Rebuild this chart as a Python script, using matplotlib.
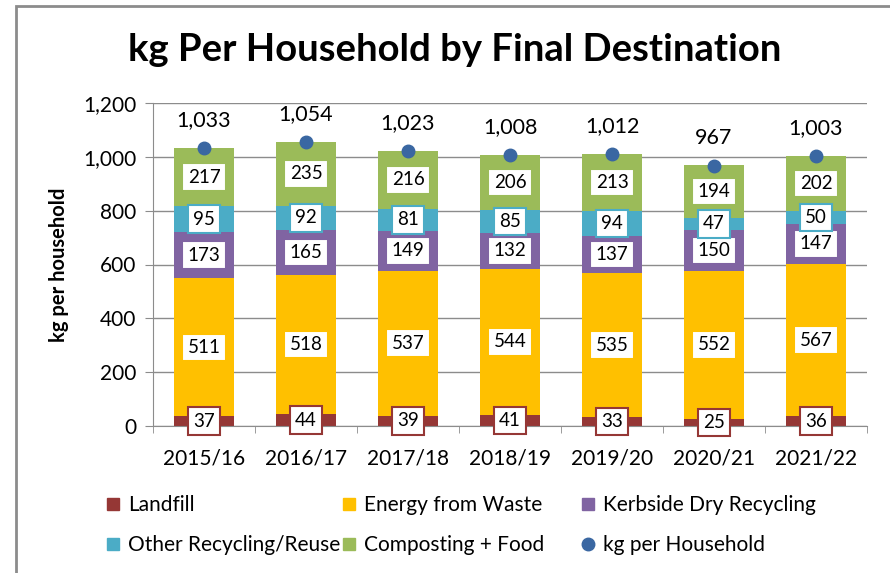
import numpy as np
import matplotlib.pyplot as plt
from matplotlib.patches import Rectangle
from matplotlib.lines import Line2D

plt.rcParams['font.family'] = ['Lato', 'DejaVu Sans']

# data
years = ['2015/16', '2016/17', '2017/18', '2018/19', '2019/20', '2020/21', '2021/22']
landfill = [37, 44, 39, 41, 33, 25, 36]
energy = [511, 518, 537, 544, 535, 552, 567]
kerbside = [173, 165, 149, 132, 137, 150, 147]
other = [95, 92, 81, 85, 94, 47, 50]
composting = [217, 235, 216, 206, 213, 194, 202]
per_household = [1033, 1054, 1023, 1008, 1012, 967, 1003]

series = [
    ('Landfill', landfill, '#953735'),
    ('Energy from Waste', energy, '#FFC000'),
    ('Kerbside Dry Recycling', kerbside, '#8064A2'),
    ('Other Recycling/Reuse', other, '#4BACC6'),
    ('Composting + Food', composting, '#9BBB59'),
]
dot_color = '#3A67A2'
grid_color = '#8C8C8C'

fig = plt.figure(figsize=(8.9, 5.73), dpi=100)
ax = fig.add_axes([153/890, 1 - 426/573, 714/890, 323/573])

x = np.arange(len(years))
bottom = np.zeros(len(years))
for name, vals, col in series:
    vals = np.array(vals, dtype=float)
    ax.bar(x, vals, 0.58, bottom=bottom, color=col, zorder=2)
    for xi, v, bt in zip(x, vals, bottom):
        ax.text(xi, bt + v / 2, f'{int(v)}', ha='center', va='center', fontsize=13.5,
                color='black', zorder=4,
                bbox=dict(boxstyle='square,pad=0.28', fc='white', ec=col, lw=1.5))
    bottom += vals

ax.plot(x, per_household, 'o', color=dot_color, markersize=9, zorder=3, clip_on=False)
for xi, v in zip(x, per_household):
    ax.annotate(f'{v:,}', (xi, v), xytext=(0, 20), textcoords='offset points',
                ha='center', va='center', fontsize=15.5)

ax.set_xlim(-0.5, len(years) - 0.5)
ax.set_ylim(0, 1200)
ax.set_yticks(range(0, 1201, 200))
ax.set_yticklabels([f'{v:,}' for v in range(0, 1201, 200)], fontsize=15)
ax.set_xticks(x)
ax.set_xticklabels(years, fontsize=15)
ax.set_xticks(np.arange(-0.5, len(years)), minor=True)
ax.tick_params(axis='x', which='major', length=0, pad=16)
ax.tick_params(axis='x', which='minor', length=5, color=grid_color)
ax.tick_params(axis='y', length=6, color=grid_color, pad=6)
ax.yaxis.grid(True, color=grid_color, lw=1)
ax.set_axisbelow(True)
for s in ['top', 'right']:
    ax.spines[s].set_visible(False)
for s in ['left', 'bottom']:
    ax.spines[s].set_color(grid_color)
ax.set_ylabel('kg per household', fontsize=14.5, fontweight='bold', labelpad=10)

fig.text(455/890, 1 - 50/573, 'kg Per Household by Final Destination', ha='center',
         va='center', fontsize=27.5, fontweight='bold')

# legend: three columns placed like the original
dot_handle = Line2D([], [], marker='o', ls='', color=dot_color, markersize=9)
sq = [Line2D([], [], marker='s', ls='', color=c, markersize=9) for _, _, c in series]
labels = [s[0] for s in series]
columns = [
    ([sq[0], sq[3]], [labels[0], labels[3]], 106),
    ([sq[1], sq[4]], [labels[1], labels[4]], 342),
    ([sq[2], dot_handle], [labels[2], 'kg per Household'], 581),
]
for hs, ls, xpos in columns:
    fig.legend(hs, ls, loc='upper left', bbox_to_anchor=(xpos/890, 1 - 495/573),
               frameon=False, fontsize=15, handlelength=0.7, handletextpad=0.35,
               labelspacing=0.97, borderpad=0, borderaxespad=0)

# outer frame of the screenshot
fig.add_artist(Rectangle((16/890, -0.1), 1.0, 1.1 - 6/573, transform=fig.transFigure,
                         fill=False, ec='#8C8C8C', lw=2))

fig.savefig('out.png', dpi=100)
